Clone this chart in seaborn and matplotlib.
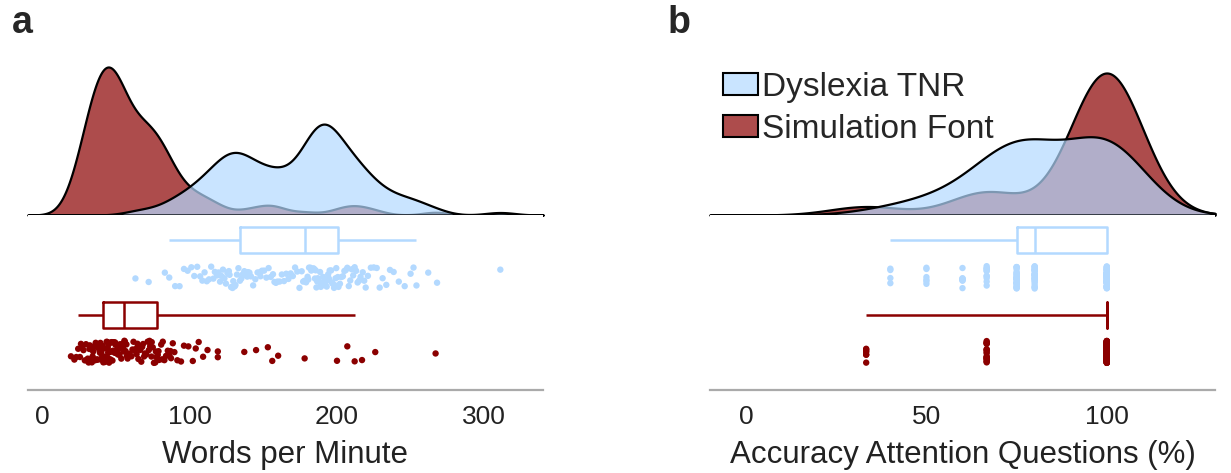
import numpy as np
import pandas as pd
import matplotlib
matplotlib.use('Agg')
import matplotlib.pyplot as plt
from matplotlib.patches import Patch
from matplotlib.colors import to_rgba
import seaborn as sns

groups = ['Dyslexia TNR', 'Simulation Font']

# words per minute
wpm_tnr = [63, 72,
           83, 86, 90, 93, 96, 98.5,
           101, 103, 105, 107, 108.5, 110, 111.5, 113, 114.5, 116, 117, 118.5, 119.5,
           120.5, 121.5, 122.5, 123.5, 124.5, 125.5, 126.5, 127, 128, 129, 129.5,
           130.5, 131, 132, 133, 134, 135, 136, 137, 138, 139, 139.5,
           140.5, 141.5, 143, 144.5, 146, 147.5, 148, 149, 150.5, 152, 153.5, 155,
           156.5, 157.5, 158.5, 159.5,
           161, 162.5, 164, 165.5, 167, 168.5, 170, 171.5, 173, 174.5, 176, 177, 178, 179,
           180, 180.5, 181, 182, 182.5, 183, 184, 184.5, 185, 185.5, 186, 186.5, 187,
           188, 188.5, 189, 189.5, 190, 190.5, 191, 192, 192.5, 193, 193.5, 194, 194.5,
           195, 196, 196.5, 197, 198, 198.5, 199, 199.5,
           200.5, 201, 202, 203, 204, 205, 206, 207, 208, 209, 210, 211, 212, 213,
           214, 215, 216, 217.5, 218.5, 219.5,
           221, 223, 225, 227, 229, 231, 233.5, 236, 238.5,
           242, 246, 250, 252, 254, 262, 268, 311]
wpm_sim = [19.2, 21.5, 22.8, 24.1, 25.3, 26.0, 26.9, 27.7, 28.6, 29.4,
           30.1, 30.6, 31.2, 31.7, 32.0, 32.5, 33.1, 33.4, 33.9, 34.3, 34.8, 35.2,
           35.6, 36.0, 36.5, 36.9, 37.3, 37.8, 38.1, 38.6, 38.9, 39.2, 39.5, 39.8,
           40.1, 40.6, 41.2, 41.5, 41.9, 42.3, 42.8, 43.0, 43.4, 43.9, 44.0, 44.2,
           44.5, 44.8, 45.1, 45.6, 45.9, 46.3, 46.7, 47.0, 47.4, 47.8, 48.1, 48.5,
           48.9, 49.2, 49.5, 49.8,
           50.2, 50.7, 51.3, 51.8, 52.2, 52.5, 52.9, 53.4, 53.8, 54.3, 54.7, 55.2,
           55.5, 55.8, 56.3, 56.9, 57.2, 57.7, 59.0,
           60.3, 61.0, 61.7, 62.4, 63.1, 63.8, 64.4, 64.7, 65.0, 65.7, 66.3, 67.0,
           67.6, 68.2, 68.9, 69.5,
           70.4, 71.3, 72.1, 72.6, 73.0, 73.9, 74.1, 74.8, 75.6, 76.5, 76.9, 77.3,
           78.2, 78.7, 79.1,
           80.5, 81.2, 81.6, 82.7, 83.8, 85.0, 86.1, 86.8, 87.2, 88.4, 89.5,
           91.5, 94.0, 96.0, 99.0,
           102, 104, 106, 109, 112, 119, 119, 137, 145, 153, 156, 160, 178,
           200, 207, 212, 217, 226, 267]

# attention question accuracy (%): score levels and how many dots sit on each
acc_tnr_levels = [40, 50, 60, 66.7, 75, 80, 100]
acc_tnr_counts = [4, 6, 7, 11, 30, 24, 62]
acc_sim_levels = [33.3, 66.7, 100]
acc_sim_counts = [7, 19, 118]

xlabels = ['Words per Minute', 'Accuracy Attention Questions (%)']
xticks_a = [0, 100, 200, 300]
xticks_b = [0, 50, 100]

blue = '#B3D9FF'
red = '#8B0000'
pal = {groups[0]: blue, groups[1]: red}
rows = ['tnr_box', 'tnr_dots', 'sim_box', 'sim_dots']

sns.set_style('white')
plt.rcParams['font.family'] = ['Liberation Sans', 'DejaVu Sans']

W, H = 1231, 473
fig = plt.figure(figsize=(W / 100, H / 100), dpi=100)


def px_box(l, r, top, bot):
    return [l / W, 1 - bot / H, (r - l) / W, (bot - top) / H]


def long_df(tnr, sim):
    df = pd.DataFrame({'value': list(tnr) + list(sim),
                       'group': [groups[0]] * len(tnr) + [groups[1]] * len(sim)})
    df['box_row'] = df['group'].map({groups[0]: 'tnr_box', groups[1]: 'sim_box'})
    df['dot_row'] = df['group'].map({groups[0]: 'tnr_dots', groups[1]: 'sim_dots'})
    return df


def panel(df, left, right, top, xlim, xticks, xlabel, bws):
    ax_d = fig.add_axes(px_box(left, right, top, 215))
    ax_r = fig.add_axes(px_box(left, right, 215, 390))

    # simulation first, so the TNR cloud is laid over it
    for g in [groups[1], groups[0]]:
        v = df.loc[df.group == g, 'value'].to_numpy(float)
        sns.kdeplot(x=v, ax=ax_d, fill=True, color=pal[g], alpha=0.7,
                    edgecolor='black', linewidth=1.6,
                    bw_method=bws[g] / np.std(v, ddof=1),
                    cut=30, clip=xlim, gridsize=800)
    ymax = max(c.get_paths()[0].vertices[:, 1].max() for c in ax_d.collections)
    ax_d.set_ylim(0, ymax)
    ax_d.set_xlim(xlim)
    for c in ax_d.collections:
        c.set_clip_on(False)
    ax_d.axis('off')

    sns.boxplot(data=df, x='value', y='box_row', hue='group', order=rows,
                palette=pal, fill=False, whis=(2, 98), showfliers=False,
                showcaps=False, width=0.7, linewidth=1.8, dodge=False,
                legend=False, ax=ax_r)
    sns.stripplot(data=df, x='value', y='dot_row', hue='group', order=rows,
                  palette=pal, jitter=0.3, size=4.6, linewidth=0, dodge=False,
                  legend=False, ax=ax_r)
    ax_r.set_xlim(xlim)
    ax_r.set_ylim(4.02, -0.67)
    ax_r.set_yticks([])
    ax_r.set_ylabel('')
    for s in ['top', 'left', 'right']:
        ax_r.spines[s].set_visible(False)
    ax_r.spines['bottom'].set_color('#AAAAAA')
    ax_r.spines['bottom'].set_linewidth(1.6)
    ax_r.set_xticks(xticks)
    ax_r.tick_params(axis='x', direction='in', length=5, width=1,
                     color='#999999', labelsize=19, pad=11, labelcolor='#222222')
    ax_r.set_xlabel(xlabel, fontsize=22.5, color='#222222', labelpad=8)
    return ax_d, ax_r


df_a = long_df(wpm_tnr, wpm_sim)
df_b = long_df(np.repeat(acc_tnr_levels, acc_tnr_counts),
               np.repeat(acc_sim_levels, acc_sim_counts))

np.random.seed(3)
panel(df_a, 28, 543, 67, (-10, 340), xticks_a, xlabels[0],
      {groups[0]: 10, groups[1]: 9})
panel(df_b, 710, 1215, 73, (-10, 130), xticks_b, xlabels[1],
      {groups[0]: 11, groups[1]: 10})

handles = [Patch(facecolor=to_rgba(pal[g], 0.7), edgecolor='black', linewidth=1.5)
           for g in groups]
fig.legend(handles, groups, loc='upper left', bbox_to_anchor=(723 / W, 1 - 72 / H),
           frameon=False, fontsize=24, handlelength=1.05, handleheight=0.65,
           handletextpad=0.12, labelspacing=0.32, borderpad=0, borderaxespad=0)

fig.text(12 / W, 1 - 33 / H, 'a', fontsize=27, fontweight='bold', va='baseline')
fig.text(668 / W, 1 - 33 / H, 'b', fontsize=27, fontweight='bold', va='baseline')

fig.savefig('out.png', dpi=100)
